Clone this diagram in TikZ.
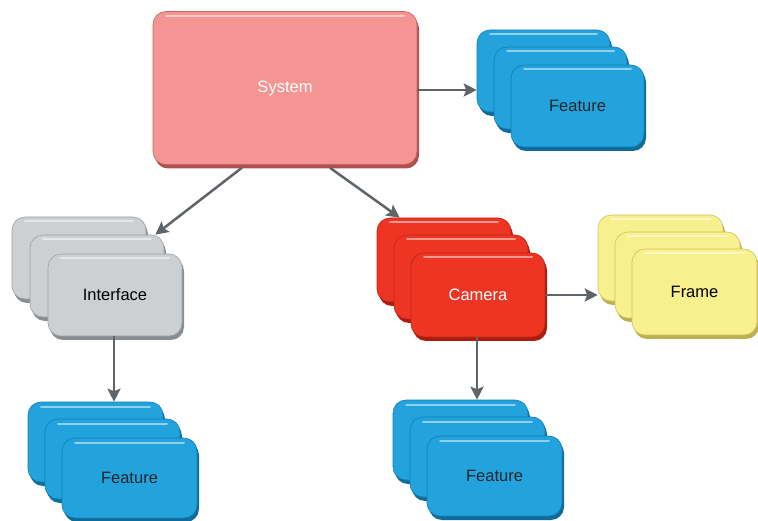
\documentclass[tikz,border=0pt]{standalone}
\usepackage{fontspec}
\setmainfont{Liberation Sans}
\usetikzlibrary{calc,arrows.meta}
\definecolor{pinkF}{HTML}{F49593}\definecolor{pinkD}{HTML}{B0514F}
\definecolor{blueF}{HTML}{22A3DE}\definecolor{blueD}{HTML}{0F6C9A}
\definecolor{grayF}{HTML}{CDD0D2}\definecolor{grayD}{HTML}{8A8E91}
\definecolor{redF}{HTML}{EE3524}\definecolor{redD}{HTML}{A81D10}
\definecolor{yelF}{HTML}{F8F08C}\definecolor{yelD}{HTML}{BDB050}
\definecolor{arrowC}{HTML}{5F6468}
\tikzset{
  boxbase/.style={rectangle, rounded corners=13pt, inner sep=0pt, font=\fontsize{16.5}{18}\selectfont},
  conn/.style={draw=arrowC, line width=2.5pt, -{Stealth[length=13pt,width=13pt,inset=2.5pt]}},
}
% #1 name, #2 cx, #3 cy, #4 w, #5 h, #6 fill, #7 dark, #8 text, #9 text colour
\newcommand\mybox[9]{%
  \node[boxbase, fill=#7, minimum width=#4pt, minimum height=#5pt] at ({#2+2},{#3+4}) {};
  \node[boxbase, fill=#6, draw=#7!70!#6, line width=0.6pt, minimum width=#4pt, minimum height=#5pt, text=#9] (#1) at (#2,#3) {#8};
  \draw[white, opacity=0.5, line width=2pt, line cap=round] ({#2-#4/2+13},{#3-#5/2+4.5}) -- ({#2+#4/2-13},{#3-#5/2+4.5});
}
\begin{document}
\begin{tikzpicture}[x=1pt,y=-1pt]
\useasboundingbox (0,0) rectangle (758,521);
% System
\mybox{sys}{285}{88}{264}{153}{pinkF}{pinkD}{System}{white}
% top-right feature stack
\mybox{ftA}{543.5}{71}{133}{82}{blueF}{blueD}{}{black}
\mybox{ftB}{560.5}{88}{133}{82}{blueF}{blueD}{}{black}
\mybox{ft}{577.5}{106}{133}{82}{blueF}{blueD}{Feature}{black!85}
% interface stack
\mybox{ifA}{79}{258}{134}{82}{grayF}{grayD}{}{black}
\mybox{ifB}{97}{276}{134}{82}{grayF}{grayD}{}{black}
\mybox{if}{115}{295}{134}{82}{grayF}{grayD}{Interface}{black}
% camera stack
\mybox{camA}{444}{260}{134}{84}{redF}{redD}{}{white}
\mybox{camB}{461}{277}{134}{84}{redF}{redD}{}{white}
\mybox{cam}{478}{295}{134}{84}{redF}{redD}{Camera}{white}
% frame stack
\mybox{frA}{660.5}{258}{125}{86}{yelF}{yelD}{}{black}
\mybox{frB}{677.5}{275}{125}{86}{yelF}{yelD}{}{black}
\mybox{fr}{694.5}{292}{125}{86}{yelF}{yelD}{Frame}{black}
% bottom-left feature stack
\mybox{fblA}{95.5}{442}{135}{80}{blueF}{blueD}{}{black}
\mybox{fblB}{112.5}{459}{135}{80}{blueF}{blueD}{}{black}
\mybox{fbl}{129.5}{478}{135}{80}{blueF}{blueD}{Feature}{black!85}
% bottom-right feature stack
\mybox{fbrA}{460.5}{440}{135}{80}{blueF}{blueD}{}{black}
\mybox{fbrB}{477.5}{457}{135}{80}{blueF}{blueD}{}{black}
\mybox{fbr}{494.5}{476}{135}{80}{blueF}{blueD}{Feature}{black!85}
% connectors
\draw[conn] (sys.east |- 0,90) -- (ftA.west |- 0,90);
\draw[conn] ($(sys.south west)!0.337!(sys.south east)+(0,3)$) -- ($(ifA.north east)+(9,18)$);
\draw[conn] ($(sys.south west)!0.67!(sys.south east)+(0,3)$) -- ($(camA.north west)+(23,0)$);
\draw[conn] (if.south -| 114,0) -- (fblA.north -| 114,0);
\draw[conn] (cam.south -| 477,0) -- (fbrA.north -| 477,0);
\draw[conn] (cam.east |- 0,295) -- (frA.west |- 0,295);
\end{tikzpicture}
\end{document}
